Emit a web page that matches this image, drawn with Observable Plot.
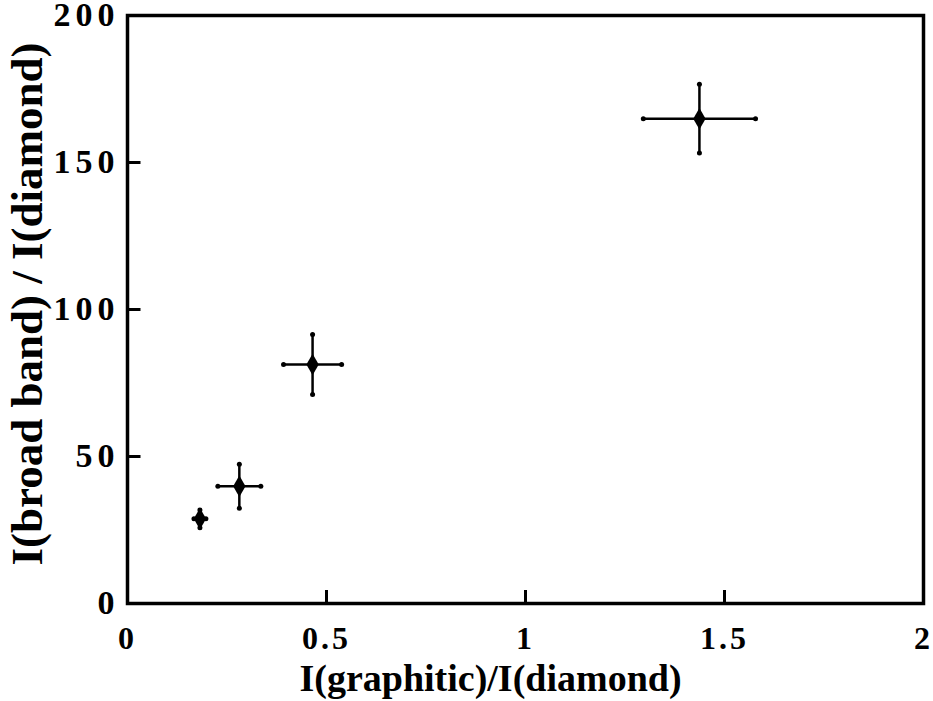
<!DOCTYPE html>
<html>
<head>
<meta charset="utf-8">
<script src="https://cdn.jsdelivr.net/npm/d3@7"></script>
<script src="https://cdn.jsdelivr.net/npm/@observablehq/plot@0.6"></script>
<style>
  html, body { margin: 0; padding: 0; background: #fff; }
  g[aria-label="y-axis tick label"] text { letter-spacing: 5px; }
  g[aria-label="x-axis tick label"] text { letter-spacing: 3px; }
</style>
</head>
<body>
<div id="chart"></div>
<script>
const xValues = [0.182, 0.281, 0.465, 1.437];
const yValues = [28.8, 39.9, 81.3, 164.9];
const xErrors = [0.015, 0.054, 0.073, 0.141];
const yErrors = [3.0, 7.5, 10.2, 11.7];
const xTicks = [0, 0.5, 1, 1.5, 2];
const xTickLabels = ["0", "0.5", "1", "1.5", "2"];
const yTicks = [0, 50, 100, 150, 200];
const yTickLabels = ["0", "50", "100", "150", "200"];
const xTitle = "I(graphitic)/I(diamond)";
const yTitle = "I(broad band) / I(diamond)";

const data = xValues.map((x, i) => ({x, y: yValues[i], xe: xErrors[i], ye: yErrors[i]}));
const font = "'Liberation Serif', 'Times New Roman', serif";

const W = 933, H = 701, ML = 127, MR = 10, MT = 15, MB = 98;
const xDomain = [0, 2], yDomain = [0, 200];
const tickPx = 13;
const tickLenY = tickPx * (yDomain[1] - yDomain[0]) / (H - MT - MB);
const tickLenX = tickPx * (xDomain[1] - xDomain[0]) / (W - ML - MR);

const chart = Plot.plot({
  width: W,
  height: H,
  marginLeft: ML,
  marginRight: MR,
  marginTop: MT,
  marginBottom: MB,
  style: {fontFamily: font, fontWeight: "bold", background: "#fff", color: "#000"},
  x: {domain: xDomain},
  y: {domain: yDomain},
  marks: [
    Plot.frame({stroke: "black", fill: "none", strokeWidth: 3.5}),
    // tick labels
    Plot.axisX(xTicks, {tickSize: 0, tickPadding: 23, fontSize: 32, fontWeight: "bold",
      tickFormat: (d) => xTickLabels[xTicks.indexOf(d)], label: null}),
    Plot.axisY(yTicks, {tickSize: 0, tickPadding: 8, fontSize: 34, fontWeight: "bold",
      tickFormat: (d) => yTickLabels[yTicks.indexOf(d)], label: null}),
    // inward tick marks: axis ticks shifted inside the frame
    Plot.axisX(xTicks, {tickSize: tickPx, dy: -tickPx, strokeWidth: 3, stroke: "black", tickFormat: () => "", label: null}),
    Plot.axisY(yTicks, {tickSize: tickPx, dx: tickPx, strokeWidth: 3, stroke: "black", tickFormat: () => "", label: null}),
    Plot.link(xTicks, {x1: d => d, x2: d => d, y1: () => yDomain[0], y2: () => yDomain[0] + tickLenY, stroke: "black", strokeWidth: 3}),
    Plot.link(yTicks, {y1: d => d, y2: d => d, x1: () => xDomain[0], x2: () => xDomain[0] + tickLenX, stroke: "black", strokeWidth: 3}),
    // error bars
    Plot.link(data, {x1: d => d.x - d.xe, x2: d => d.x + d.xe, y1: "y", y2: "y", stroke: "black", strokeWidth: 2.5}),
    Plot.link(data, {x1: "x", x2: "x", y1: d => d.y - d.ye, y2: d => d.y + d.ye, stroke: "black", strokeWidth: 2.5}),
    Plot.dot(data, {x: d => d.x - d.xe, y: "y", r: 2.5, fill: "black"}),
    Plot.dot(data, {x: d => d.x + d.xe, y: "y", r: 2.5, fill: "black"}),
    Plot.dot(data, {x: "x", y: d => d.y - d.ye, r: 2.5, fill: "black"}),
    Plot.dot(data, {x: "x", y: d => d.y + d.ye, r: 2.5, fill: "black"}),
    Plot.dot(data, {x: "x", y: "y", symbol: "diamond", r: 6.5, fill: "black"}),
    Plot.text([xTitle], {frameAnchor: "bottom", textAnchor: "middle", dx: -35, dy: 87, fontSize: 38, fontWeight: "bold", fill: "black"}),
    Plot.text([yTitle], {frameAnchor: "left", textAnchor: "middle", rotate: -90, dx: -100, dy: -5.5, fontSize: 45, fontWeight: "bold", fill: "black"})
  ]
});
document.getElementById("chart").appendChild(chart);
</script>
</body>
</html>
